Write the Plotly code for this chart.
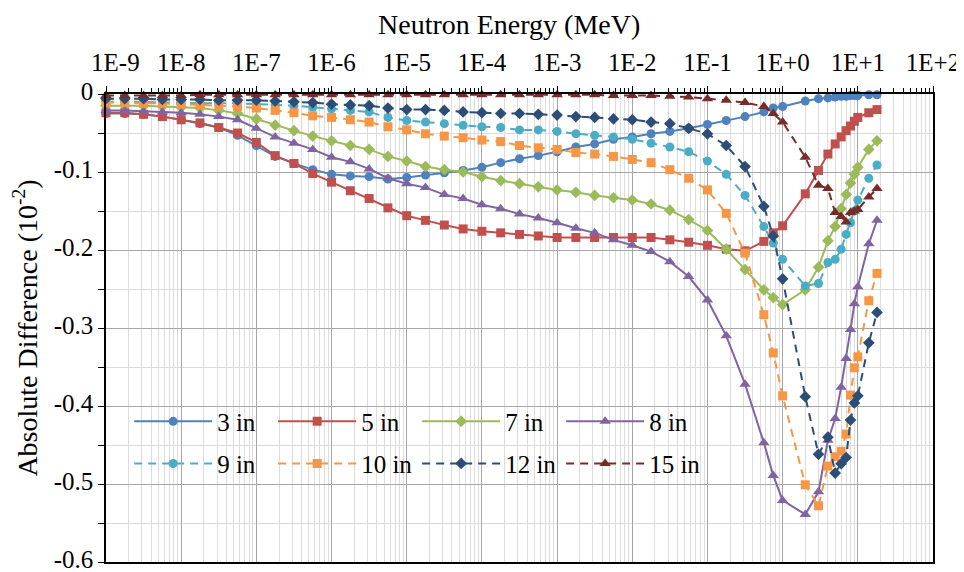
import plotly.graph_objects as go

# Neutron energy grid (MeV)
energy = [1e-9, 1.778e-9, 3.162e-9, 5.623e-9,
          1e-8, 1.778e-8, 3.162e-8, 5.623e-8,
          1e-7, 1.778e-7, 3.162e-7, 5.623e-7,
          1e-6, 1.778e-6, 3.162e-6, 5.623e-6,
          1e-5, 1.778e-5, 3.162e-5, 5.623e-5,
          1e-4, 1.778e-4, 3.162e-4, 5.623e-4,
          1e-3, 1.778e-3, 3.162e-3, 5.623e-3,
          1e-2, 1.778e-2, 3.162e-2, 5.623e-2,
          1e-1, 1.778e-1, 3.162e-1, 5.623e-1,
          0.75, 1, 2, 3, 4, 5, 6, 7, 8, 9, 10, 14, 18]

in3 = [-0.025, -0.025, -0.026, -0.029, -0.033, -0.038, -0.043, -0.053, -0.066, -0.080, -0.089, -0.097,
       -0.103, -0.105, -0.106, -0.109, -0.107, -0.104, -0.101, -0.098, -0.094, -0.088, -0.083, -0.079,
       -0.074, -0.068, -0.064, -0.058, -0.055, -0.051, -0.048, -0.044, -0.039, -0.034, -0.029, -0.023,
       -0.018, -0.016, -0.009, -0.006, -0.005, -0.004, -0.003, -0.003, -0.002, -0.002, -0.002, -0.001, -0.001]

in5 = [-0.024, -0.024, -0.026, -0.029, -0.033, -0.037, -0.043, -0.050, -0.062, -0.079, -0.089, -0.102,
       -0.113, -0.124, -0.134, -0.146, -0.156, -0.162, -0.168, -0.173, -0.176, -0.178, -0.180, -0.182,
       -0.184, -0.184, -0.184, -0.184, -0.184, -0.184, -0.187, -0.190, -0.194, -0.199, -0.201, -0.189,
       -0.178, -0.169, -0.128, -0.098, -0.077, -0.064, -0.055, -0.047, -0.041, -0.035, -0.030, -0.024, -0.020]

in7 = [-0.015, -0.015, -0.015, -0.016, -0.017, -0.018, -0.021, -0.025, -0.032, -0.040, -0.047, -0.054,
       -0.060, -0.066, -0.071, -0.080, -0.086, -0.093, -0.097, -0.100, -0.106, -0.111, -0.115, -0.119,
       -0.123, -0.126, -0.130, -0.133, -0.136, -0.141, -0.149, -0.161, -0.175, -0.199, -0.225, -0.251,
       -0.261, -0.270, -0.251, -0.222, -0.188, -0.170, -0.147, -0.129, -0.114, -0.103, -0.094, -0.071, -0.060]

in8 = [-0.021, -0.021, -0.022, -0.023, -0.024, -0.026, -0.029, -0.033, -0.044, -0.055, -0.063, -0.071,
       -0.081, -0.087, -0.096, -0.108, -0.115, -0.120, -0.129, -0.134, -0.142, -0.147, -0.154, -0.159,
       -0.165, -0.172, -0.178, -0.187, -0.194, -0.202, -0.215, -0.234, -0.264, -0.310, -0.372, -0.447,
       -0.489, -0.521, -0.539, -0.510, -0.444, -0.416, -0.376, -0.339, -0.302, -0.269, -0.247, -0.192, -0.162]

in9 = [-0.010, -0.010, -0.010, -0.011, -0.011, -0.012, -0.012, -0.012, -0.013, -0.014, -0.015, -0.017,
       -0.019, -0.021, -0.023, -0.030, -0.034, -0.036, -0.038, -0.040, -0.042, -0.043, -0.046, -0.046,
       -0.048, -0.051, -0.053, -0.055, -0.058, -0.063, -0.068, -0.074, -0.086, -0.103, -0.130, -0.170,
       -0.191, -0.212, -0.246, -0.243, -0.216, -0.212, -0.199, -0.180, -0.165, -0.150, -0.136, -0.108, -0.091]

in10 = [-0.011, -0.011, -0.012, -0.012, -0.013, -0.014, -0.015, -0.016, -0.018, -0.021, -0.024, -0.028,
        -0.030, -0.033, -0.036, -0.042, -0.046, -0.051, -0.054, -0.056, -0.059, -0.061, -0.066, -0.069,
        -0.071, -0.075, -0.077, -0.080, -0.084, -0.088, -0.097, -0.108, -0.123, -0.153, -0.204, -0.283,
        -0.332, -0.387, -0.501, -0.528, -0.477, -0.465, -0.458, -0.436, -0.386, -0.351, -0.337, -0.265, -0.230]

in12 = [-0.006, -0.006, -0.006, -0.007, -0.007, -0.007, -0.008, -0.008, -0.008, -0.009, -0.010, -0.011,
        -0.013, -0.014, -0.015, -0.018, -0.020, -0.020, -0.021, -0.023, -0.024, -0.025, -0.025, -0.026,
        -0.027, -0.029, -0.030, -0.032, -0.033, -0.036, -0.038, -0.044, -0.051, -0.066, -0.093, -0.144,
        -0.182, -0.237, -0.388, -0.462, -0.440, -0.486, -0.474, -0.466, -0.418, -0.396, -0.387, -0.319, -0.280]

in15 = [-0.002, -0.002, -0.002, -0.002, -0.002, -0.001, -0.001, -0.001, -0.001, -0.001, -0.001, -0.001,
        -0.001, -0.001, -0.001, -0.001, -0.001, -0.001, -0.001, -0.001, -0.001, -0.001, -0.001, -0.001,
        -0.001, -0.001, -0.001, -0.002, -0.002, -0.002, -0.003, -0.004, -0.006, -0.008, -0.011, -0.016,
        -0.025, -0.036, -0.081, -0.117, -0.121, -0.152, -0.157, -0.164, -0.152, -0.150, -0.148, -0.132, -0.121]

series_names = ["3 in", "5 in", "7 in", "8 in", "9 in", "10 in", "12 in", "15 in"]
series_values = [in3, in5, in7, in8, in9, in10, in12, in15]

x_tickvals = [1e-9, 1e-8, 1e-7, 1e-6, 1e-5, 1e-4, 1e-3, 1e-2, 1e-1, 1e0, 1e1, 1e2]
x_ticktext = ["\u00a0\u00a0\u00a01E-9", "1E-8", "1E-7", "1E-6", "1E-5", "1E-4", "1E-3", "1E-2",
              "1E-1", "1E+0", "1E+1", "1E+2"]
y_tickvals = [0, -0.1, -0.2, -0.3, -0.4, -0.5, -0.6]
y_ticktext = ["0", "-0.1", "-0.2", "-0.3", "-0.4", "-0.5", "-0.6"]

colors = ["#4F81BD", "#C0504D", "#9BBB59", "#8064A2", "#4BACC6", "#F79646", "#2C4D75", "#772C2A"]
symbols = ["circle", "square", "diamond", "triangle-up", "circle", "square", "diamond", "triangle-up"]
sizes = [9, 9, 9, 10, 9, 9, 9, 10]
dashes = ["solid"] * 4 + ["8px,6px"] * 4
legends = ["legend"] * 4 + ["legend2"] * 4

fig = go.Figure()
for name, vals, c, s, sz, d, lg in zip(series_names, series_values, colors, symbols, sizes, dashes, legends):
    fig.add_trace(go.Scatter(
        x=energy, y=vals, mode="lines+markers", name=name,
        line=dict(color=c, width=2, dash=d),
        marker=dict(symbol=s, size=sz, color=c, line=dict(width=0)),
        cliponaxis=False, legend=lg,
    ))

font_family = "'Liberation Serif', 'Times New Roman', Times, serif"
legend_common = dict(orientation="h", xanchor="left", yanchor="middle",
                     bgcolor="rgba(0,0,0,0)", itemwidth=78, entrywidth=51,
                     font=dict(family=font_family, size=25, color="#000"),
                     tracegroupgap=0)

# The page body adds an 8px offset, so the figure is 8px smaller and margins shifted.
fig.update_layout(
    width=956, height=564,
    margin=dict(l=98, r=31, t=86, b=10),
    paper_bgcolor="white", plot_bgcolor="white",
    font=dict(family=font_family, size=25, color="#000"),
    showlegend=True,
    legend=dict(x=0.028, y=0.30, **legend_common),
    legend2=dict(x=0.028, y=0.21, **legend_common),
    xaxis=dict(
        type="log", side="top", range=[-9, 2], automargin=False,
        tickmode="array", tickvals=x_tickvals, ticktext=x_ticktext,
        ticks="outside", ticklen=6, tickwidth=1, tickcolor="#000",
        showline=True, linecolor="#000", linewidth=1.5, mirror=True,
        showgrid=True, gridcolor="#a6a6a6", gridwidth=1, zeroline=False,
        minor=dict(dtick="D1", ticks="outside", ticklen=4, tickcolor="#000",
                   showgrid=True, gridcolor="#dcdcdc", gridwidth=1),
        tickfont=dict(size=25),
        ticklabelstandoff=5, ticklabeloverflow="allow",
    ),
    yaxis=dict(
        range=[-0.6, 0], automargin=False,
        tickmode="array", tickvals=y_tickvals, ticktext=y_ticktext,
        ticks="outside", ticklen=6, tickwidth=1, tickcolor="#000",
        showline=True, linecolor="#000", linewidth=1.5, mirror=True,
        showgrid=True, gridcolor="#a6a6a6", gridwidth=1, zeroline=False,
        minor=dict(dtick=0.05, tick0=0, ticks="outside", ticklen=6, tickcolor="#000",
                   showgrid=True, gridcolor="#dcdcdc", gridwidth=1),
        tickfont=dict(size=25), ticklabeloverflow="allow", ticklabelshift=-3,
        title=dict(text="Absolute Difference (10<sup>-2</sup>)", font=dict(size=28), standoff=10),
    ),
    annotations=[dict(
        text="Neutron Energy (MeV)", xref="paper", yref="paper",
        x=0.487, y=1 + 86 / 468, xanchor="center", yanchor="top", borderpad=0,
        showarrow=False, font=dict(family=font_family, size=28, color="#000"),
    )],
)

fig.write_html("out.html")
